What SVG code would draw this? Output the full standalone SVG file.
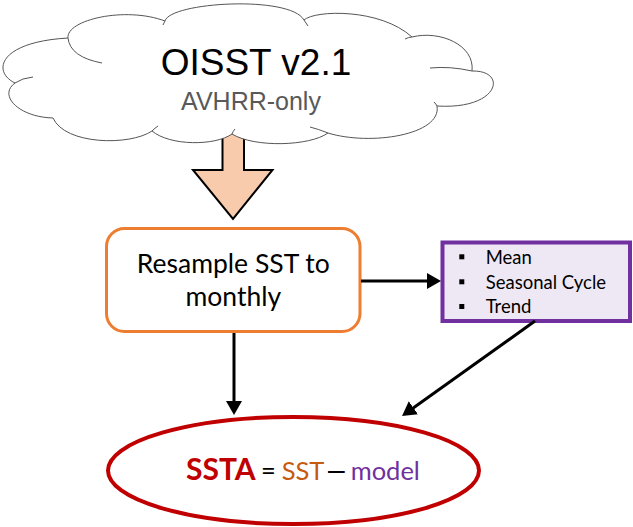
<svg xmlns="http://www.w3.org/2000/svg" width="633" height="527" viewBox="0 0 633 527">
<style>
.cloud{fill:#ffffff;stroke:#555555;stroke-width:1}
.tail{fill:none;stroke:#555555;stroke-width:1}
.conn{stroke:#000000;stroke-width:3;fill:none}
.cal{font-family:Lato,"Open Sans","Liberation Sans",sans-serif}
.ari{font-family:"Liberation Sans",Arial,sans-serif}
</style>
<defs>
<marker id="ah" markerUnits="userSpaceOnUse" markerWidth="16" markerHeight="18" refX="2" refY="8" orient="auto">
<path d="M0,0 L14,8 L0,16 z" fill="#000000"/>
</marker>
</defs>
<rect width="633" height="527" fill="#ffffff"/>
<g id="blockarrow">
<polygon points="222.5,125 244,125 244,170 272.5,170 233,219 193,170 222.5,170" fill="#F8CBAD" stroke="#000000" stroke-width="2" stroke-linejoin="miter"/>
</g>
<g id="cloud">
<path class="cloud" d="M68,38 C66,20 125,6 165,21 C170,2 290,-5 304,20 C315,10 380,8 412,37 C440,30 475,45 472,71 C508,70 500,110 437,106 C442,135 370,146 328,133 C310,146 255,148 232,134 C215,146 170,146 152,131 C130,146 65,145 53,118 C18,117 -2,95 15,83 C-8,72 -2,42 68,38 Z"/>
<path class="tail" d="M68,38 Q70,57 102,63 M15,83 Q22,78 33,77 M152,131 Q155,128 158,126 M232,134 Q233,131 235,129 M328,133 Q318,129 310,127 M437,106 Q436,104 434,102 M472,71 Q450,66 430,68 M412,37 Q409,37 405,39 M304,20 Q306,23 308,26 M165,21 Q164,23 163,25"/>
<text class="ari" x="256" y="75" font-size="37" text-anchor="middle" fill="#000000">OISST v2.1</text>
<text class="ari" x="251" y="110" font-size="25" text-anchor="middle" fill="#595959">AVHRR-only</text>
</g>
<g id="resample">
<rect x="106.5" y="228.5" width="253.5" height="103" rx="18" ry="18" fill="#ffffff" stroke="#ED7D31" stroke-width="3"/>
<text class="cal" x="233.3" y="273" font-size="26.5" text-anchor="middle" fill="#000000">Resample SST to</text>
<text class="cal" x="233.3" y="306" font-size="26.5" text-anchor="middle" fill="#000000">monthly</text>
</g>
<g id="components">
<rect x="442.5" y="242.5" width="187.5" height="78.5" fill="#EEE8F4" stroke="#7030A0" stroke-width="4"/>
<rect x="459.3" y="254.3" width="5" height="5" fill="#000000"/>
<rect x="459.3" y="279.3" width="5" height="5" fill="#000000"/>
<rect x="459.3" y="304" width="5" height="5" fill="#000000"/>
<text class="cal" x="485.7" y="264" font-size="18.5" fill="#000000">Mean</text>
<text class="cal" x="485.7" y="289" font-size="18.5" fill="#000000">Seasonal Cycle</text>
<text class="cal" x="485.7" y="313" font-size="18.5" fill="#000000">Trend</text>
</g>
<g id="ssta">
<ellipse cx="293.5" cy="470.5" rx="185.5" ry="53.5" fill="#ffffff" stroke="#C00000" stroke-width="4"/>
<text class="cal" y="480" font-size="25.5"><tspan x="186" font-size="30" font-weight="bold" fill="#C00000">SSTA</tspan><tspan x="261" fill="#000000">=</tspan><tspan x="281.7" fill="#C55A11">SST</tspan><tspan x="328" font-family="Liberation Sans, sans-serif" font-size="30" fill="#000000">–</tspan><tspan x="350.7" fill="#7030A0">model</tspan></text>
</g>
<g id="connectors">
<line class="conn" x1="361" y1="281" x2="429" y2="281" marker-end="url(#ah)"/>
<line class="conn" x1="234" y1="333" x2="234" y2="403" marker-end="url(#ah)"/>
<line class="conn" x1="535" y1="321" x2="411.8" y2="409" marker-end="url(#ah)"/>
</g>
</svg>
